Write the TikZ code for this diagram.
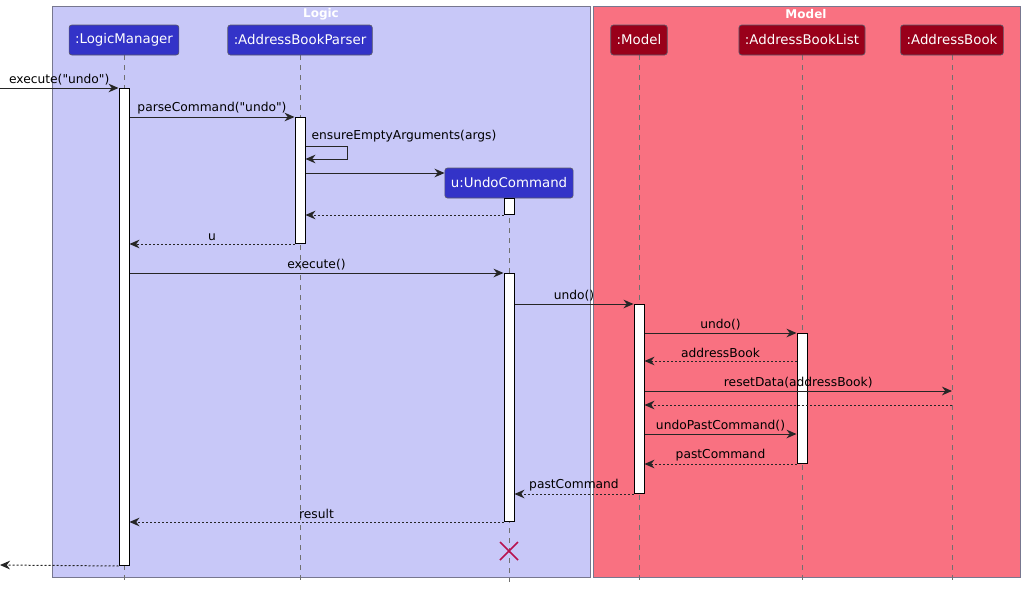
\documentclass[tikz,border=0pt]{standalone}
\usepackage{fontspec}
\setmainfont{DejaVu Sans}[Ligatures=TeXOff]
\usetikzlibrary{arrows.meta,positioning,backgrounds}
\definecolor{LogicBg}{HTML}{C8C8F8}
\definecolor{ModelBg}{HTML}{F97181}
\definecolor{FrameLine}{HTML}{77778F}
\definecolor{LogicHead}{HTML}{3333C8}
\definecolor{ModelHead}{HTML}{99001A}
\definecolor{HeadLine}{HTML}{5A5A6A}
\definecolor{LifeGray}{HTML}{707070}
\definecolor{KillRed}{HTML}{B8124F}

\tikzset{
  head/.style={rounded corners=2pt,draw=HeadLine,line width=.5pt,text=white,
    minimum height=22.5pt,inner xsep=4.5pt,font=\fontsize{10}{12}\selectfont},
  logichead/.style={head,fill=LogicHead},
  modelhead/.style={head,fill=ModelHead},
  actbar/.style={draw=black,fill=white,line width=.75pt,inner sep=0pt,
    minimum width=7.5pt,anchor=north},
  life/.style={draw=LifeGray,line width=.6pt,dash pattern=on 3.75pt off 3.75pt},
  msg/.style={draw=black!85,line width=.75pt,-{Stealth[length=7.5pt,width=6.5pt,inset=2.4pt]}},
  ret/.style={msg,dash pattern=on 1.5pt off 1.5pt},
  lbl/.style={font=\fontsize{9.2}{11}\selectfont,inner sep=1pt,above=1pt},
  frametitle/.style={text=white,font=\bfseries\fontsize{9}{10}\selectfont},
}

\begin{document}
\begin{tikzpicture}[x=0.75pt,y=-0.75pt]
  \useasboundingbox (0,0) rectangle (1025,589);

  % participants
  \node[logichead] (lm) at (124,40) {:LogicManager};
  \node[logichead] (abp) at (300,40) {:AddressBookParser};
  \node[logichead] (uc) at (509,183) {u:UndoCommand};
  \node[modelhead] (mdl) at (639,40) {:Model};
  \node[modelhead] (abl) at (802,40) {:AddressBookList};
  \node[modelhead] (ab) at (952,40) {:AddressBook};

  \node[frametitle] (tLogic) at (321,14) {Logic};
  \node[frametitle] (tModel) at (806,14) {Model};

  % activations
  \node[actbar,minimum height=357.75pt] (aLM) at (124,88) {};
  \node[actbar,minimum height=94.5pt] (aPa) at (300,117) {};
  \node[actbar,minimum height=12pt] (aUc1) at (509,198) {};
  \node[actbar,minimum height=186pt] (aUc2) at (509,273) {};
  \node[actbar,minimum height=141.75pt] (aMd) at (639,304) {};
  \node[actbar,minimum height=97.5pt] (aAbl) at (802,333) {};

  \coordinate (inL) at (0,88);
  \coordinate (outL) at (0,565);

  % messages
  \draw[msg] (inL) -- (aLM.north west) node[midway,lbl] {execute("undo")};
  \draw[msg] (aLM.east |- aPa.north) -- (aPa.north west) node[midway,lbl] {parseCommand("undo")};
  \draw[msg] (aPa.east |- 0,146) -- ++(42,0) -- ++(0,13) -- (aPa.east |- 0,159);
  \node[lbl,anchor=south west] (ensure) at (310,145) {ensureEmptyArguments(args)};
  \draw[msg] (aPa.east |- 0,173) -- (uc.west |- 0,173);
  \draw[ret] (aUc1.south west) -- (aPa.east |- aUc1.south);
  \draw[ret] (aPa.south west) -- (aLM.east |- aPa.south) node[midway,lbl] {u};
  \draw[msg] (aLM.east |- aUc2.north) -- (aUc2.north west) node[midway,lbl] {execute()};
  \draw[msg] (aUc2.east |- aMd.north) -- (aMd.north west) node[midway,lbl] {undo()};
  \draw[msg] (aMd.east |- aAbl.north) -- (aAbl.north west) node[midway,lbl] {undo()};
  \draw[ret] (aAbl.west |- 0,361) -- (aMd.east |- 0,361) node[midway,lbl] {addressBook};
  \draw[msg] (aMd.east |- 0,391) -- (ab |- 0,391) node[midway,lbl] {resetData(addressBook)};
  \draw[ret] (ab |- 0,405) -- (aMd.east |- 0,405);
  \draw[msg] (aMd.east |- 0,434) -- (aAbl.west |- 0,434) node[midway,lbl] {undoPastCommand()};
  \draw[ret] (aAbl.south west) -- (aMd.east |- aAbl.south) node[midway,lbl] {pastCommand};
  \draw[ret] (aMd.south west) -- (aUc2.east |- aMd.south) node[midway,lbl] {pastCommand};
  \draw[ret] (aUc2.south west) -- (aLM.east |- aUc2.south) node[midway,lbl] {result};
  \draw[ret] (aLM.south west) -- (outL);

  % destroy
  \draw[KillRed,line width=1.3pt] (500,542) -- (518,560) (500,560) -- (518,542);

  \begin{pgfonlayer}{background}
    \draw[FrameLine,fill=LogicBg,line width=.75pt] (52,6) rectangle (590,577);
    \draw[FrameLine,fill=ModelBg,line width=.75pt] (593,6) rectangle (1020,577);
    \foreach \p in {lm,abp,uc,mdl,abl,ab}
      \draw[life] (\p.south) -- (\p |- 0,582);
  \end{pgfonlayer}
\end{tikzpicture}
\end{document}
